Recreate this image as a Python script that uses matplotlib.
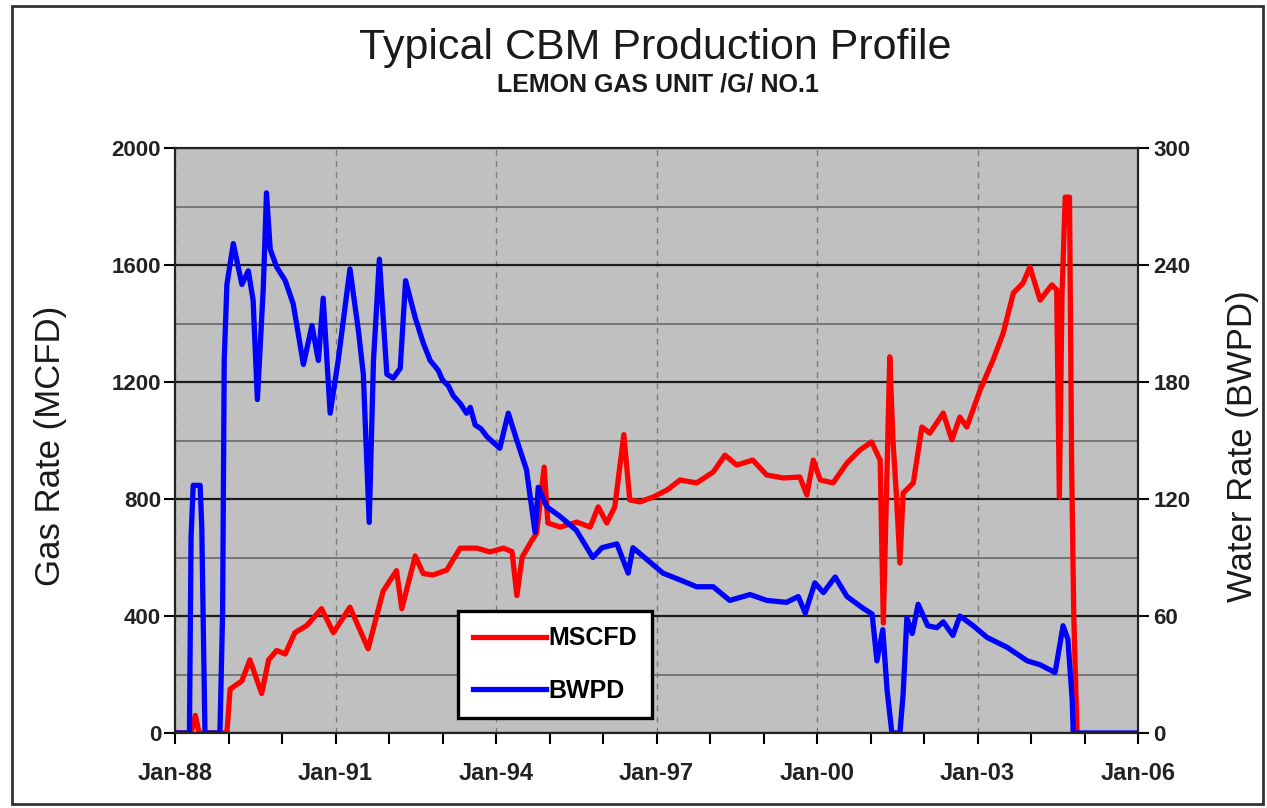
import matplotlib
matplotlib.use('Agg')
import matplotlib.pyplot as plt
from matplotlib.ticker import FixedLocator, MultipleLocator, FixedFormatter
from matplotlib.patches import Rectangle

plt.rcParams['font.family'] = ['Liberation Sans', 'DejaVu Sans']

title = 'Typical CBM Production Profile'
subtitle = 'LEMON GAS UNIT /G/ NO.1'
gas_label = 'Gas Rate (MCFD)'
water_label = 'Water Rate (BWPD)'
x_tick_years = [1988, 1991, 1994, 1997, 2000, 2003, 2006]
x_tick_labels = ['Jan-88', 'Jan-91', 'Jan-94', 'Jan-97', 'Jan-00', 'Jan-03', 'Jan-06']

# Gas rate, MSCFD (decimal year, value)
gas_t = [1988.0, 1988.3, 1988.38, 1988.45, 1988.97, 1989.03, 1989.25, 1989.4, 1989.62, 1989.75,
         1989.9, 1990.06, 1990.24, 1990.46, 1990.74, 1990.96, 1991.27, 1991.61, 1991.89, 1992.14,
         1992.24, 1992.49, 1992.64, 1992.82, 1993.08, 1993.33, 1993.64, 1993.89, 1994.14, 1994.3,
         1994.39, 1994.49, 1994.64, 1994.76, 1994.9, 1994.97, 1995.2, 1995.51, 1995.76, 1995.91,
         1996.07, 1996.22, 1996.39, 1996.5, 1996.69, 1996.94, 1997.2, 1997.44, 1997.75, 1998.06,
         1998.28, 1998.5, 1998.8, 1999.06, 1999.37, 1999.68, 1999.81, 1999.93, 2000.06, 2000.3,
         2000.56, 2000.8, 2001.02, 2001.18, 2001.24, 2001.36, 2001.42, 2001.49, 2001.55, 2001.61,
         2001.8, 2001.96, 2002.11, 2002.36, 2002.52, 2002.67, 2002.8, 2003.05, 2003.29, 2003.48,
         2003.67, 2003.85, 2003.98, 2004.17, 2004.39, 2004.48, 2004.53, 2004.58, 2004.64, 2004.72,
         2004.76, 2004.8, 2004.86]
gas_v = [0, 0, 60, 0, 0, 150, 178, 250, 135, 250,
         282, 270, 343, 367, 425, 343, 430, 288, 485, 555,
         425, 605, 545, 540, 557, 632, 632, 619, 632, 620,
         470, 602, 649, 684, 909, 718, 704, 721, 704, 773,
         718, 773, 1020, 797, 790, 807, 831, 865, 855, 892,
         950, 916, 933, 882, 872, 875, 814, 933, 865, 855,
         923, 967, 995, 933, 376, 1286, 1000, 797, 581, 820,
         855, 1046, 1025, 1094, 1002, 1080, 1046, 1173, 1275, 1367,
         1504, 1538, 1593, 1480, 1532, 1515, 807, 1500, 1832, 1832,
         909, 397, 0]

# Water rate, BWPD (decimal year, value)
water_t = [1988.0, 1988.27, 1988.30, 1988.34, 1988.47, 1988.50, 1988.56, 1988.84, 1988.89, 1988.92,
           1988.97, 1989.09, 1989.25, 1989.37, 1989.46, 1989.54, 1989.65, 1989.71, 1989.78, 1989.90,
           1990.06, 1990.21, 1990.40, 1990.56, 1990.68, 1990.77, 1990.90, 1991.05, 1991.27, 1991.43,
           1991.52, 1991.63, 1991.71, 1991.82, 1991.96, 1992.08, 1992.21, 1992.31, 1992.49, 1992.64,
           1992.77, 1992.92, 1993.0, 1993.11, 1993.2, 1993.33, 1993.45, 1993.52, 1993.61, 1993.72,
           1993.83, 1993.95, 1994.07, 1994.23, 1994.39, 1994.57, 1994.73,
           1994.79, 1994.95, 1995.2, 1995.5, 1995.81, 1995.98, 1996.26, 1996.47, 1996.56, 1996.82,
           1997.12, 1997.44, 1997.75, 1998.06, 1998.37, 1998.75, 1999.06, 1999.43, 1999.65, 1999.78,
           1999.96, 2000.12, 2000.34, 2000.56, 2000.86, 2001.03, 2001.12, 2001.23, 2001.31, 2001.40,
           2001.55, 2001.61, 2001.68, 2001.78, 2001.89, 2002.07, 2002.24, 2002.36, 2002.54, 2002.67,
           2002.92, 2003.18, 2003.55, 2003.93, 2004.17, 2004.45, 2004.6, 2004.69, 2004.77, 2004.79,
           2006.0]
water_v = [0, 0, 100, 127, 127, 106, 0, 0, 62, 191,
           230, 251, 230, 237, 222, 171, 228, 277, 248, 239,
           232, 220, 189, 209, 191, 223, 164, 191, 238, 206,
           184, 108, 191, 243, 184, 182, 187, 232, 213, 200,
           191, 186, 181, 178, 173, 169, 164, 167, 158, 156,
           152, 149, 146, 164, 150, 135, 103,
           126, 116, 111, 104, 90, 95, 97, 82, 95, 89,
           82, 78.5, 75, 75, 68, 71, 68, 67, 70, 61.5,
           77, 72, 80, 70, 64, 61, 37, 53, 22, 0,
           0, 20, 59, 51, 66, 55, 54, 57, 50, 60,
           55, 49, 44, 37, 35, 31, 55, 48, 17, 0,
           0]

W, H = 1267, 808
fig = plt.figure(figsize=(W / 100, H / 100), dpi=100)
fig.patch.set_facecolor('white')

x0, x1, y0, y1 = 175, 1138, 148, 733
ax1 = fig.add_axes([x0 / W, 1 - y1 / H, (x1 - x0) / W, (y1 - y0) / H])
ax1.set_facecolor('#c0c0c0')
ax1.set_axisbelow(True)

l1, = ax1.plot(gas_t, gas_v, color='#ff0000', lw=3.8, solid_joinstyle='round')
ax1.set_xlim(1988, 2006)
ax1.set_ylim(0, 2000)

ax1.yaxis.set_major_locator(MultipleLocator(400))
ax1.yaxis.set_minor_locator(MultipleLocator(200))
ax1.xaxis.set_major_locator(FixedLocator(x_tick_years))
ax1.xaxis.set_major_formatter(FixedFormatter(x_tick_labels))
ax1.xaxis.set_minor_locator(MultipleLocator(1))

ax1.grid(which='major', axis='y', color='#1a1a1a', lw=1.6)
ax1.grid(which='minor', axis='y', color='#707070', lw=1.3)
ax1.grid(which='major', axis='x', color='#7a7a7a', lw=1.0, ls=(0, (4, 4)))

ax1.tick_params(axis='x', which='both', direction='out', length=8, width=1.5,
                labelsize=17, pad=13)
ax1.tick_params(axis='y', which='major', direction='out', length=8, width=1.5,
                labelsize=16, pad=2)
ax1.tick_params(axis='y', which='minor', length=0)
for lab in ax1.get_xticklabels() + ax1.get_yticklabels():
    lab.set_fontweight('bold')
    lab.set_color('#222222')

for s in ax1.spines.values():
    s.set_color('#222222')
    s.set_linewidth(1.5)

ax1.set_ylabel(gas_label, fontsize=25, color='#1a1a1a')
ax1.yaxis.set_label_coords((67 - x0) / (x1 - x0), 0.49)

ax2 = ax1.twinx()
l2, = ax2.plot(water_t, water_v, color='#0000ff', lw=3.8, solid_joinstyle='round')
ax2.set_ylim(0, 300)
ax2.yaxis.set_major_locator(MultipleLocator(60))
ax2.tick_params(axis='y', which='major', direction='out', length=8, width=1.5,
                labelsize=16, pad=3)
for lab in ax2.get_yticklabels():
    lab.set_fontweight('bold')
    lab.set_color('#222222')
for s in ax2.spines.values():
    s.set_color('#222222')
    s.set_linewidth(1.5)
ax2.set_ylabel(water_label, fontsize=25, color='#1a1a1a', rotation=90)
ax2.yaxis.set_label_coords((1226 - x0) / (x1 - x0), 0.49)

leg = ax2.legend([l1, l2], ['MSCFD', 'BWPD'], loc='lower left',
                 bbox_to_anchor=((458 - x0) / (x1 - x0), (y1 - 718) / (y1 - y0)),
                 borderaxespad=0, frameon=True, fancybox=False, framealpha=1,
                 edgecolor='black', prop={'weight': 'bold', 'size': 18},
                 handlelength=2.9, handletextpad=0.1, borderpad=0.6, labelspacing=1.15)
leg.get_frame().set_linewidth(2.4)
for h in leg.get_lines():
    h.set_linewidth(3.8)

fig.text(655 / W, 1 - 48 / H, title, ha='center', va='center', fontsize=31, color='#1a1a1a')
fig.text(658 / W, 1 - 84 / H, subtitle, ha='center', va='center', fontsize=18,
         fontweight='bold', color='#1a1a1a')

fig.add_artist(Rectangle((12 / W, 1 - 804 / H), (1263 - 12) / W, (804 - 6) / H,
                         transform=fig.transFigure, fill=False, edgecolor='#333333', lw=2))

fig.savefig('out.png', dpi=100, facecolor='white')
